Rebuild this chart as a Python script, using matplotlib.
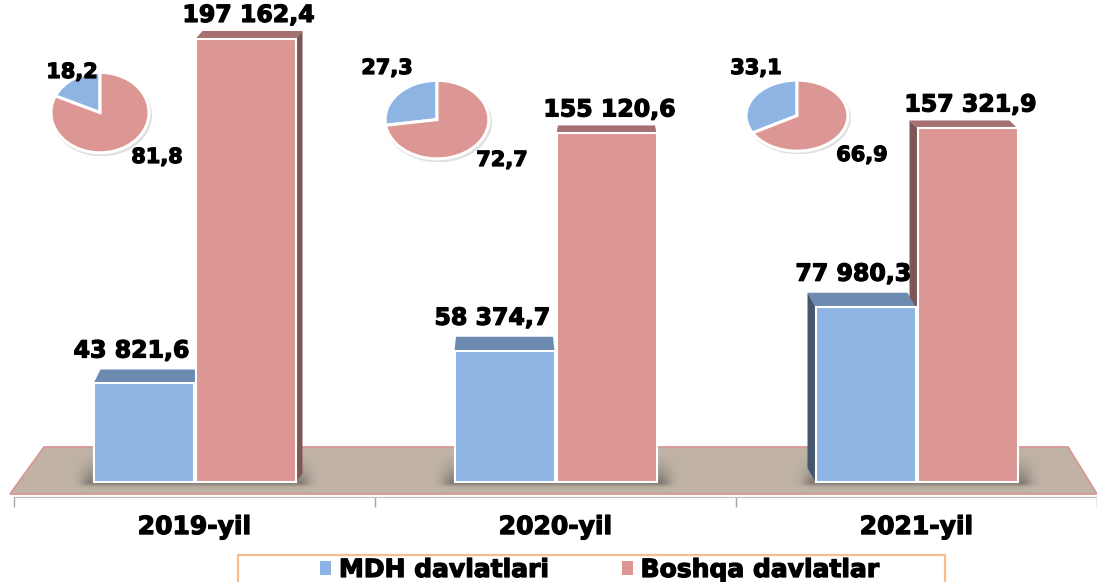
import numpy as np
import matplotlib
matplotlib.use("Agg")
import matplotlib.pyplot as plt
from matplotlib.patches import Polygon, Rectangle, Patch, Ellipse
import matplotlib.patheffects as pe

# ---------------- data ----------------
years = ["2019-yil", "2020-yil", "2021-yil"]
mdh = [43821.6, 58374.7, 77980.3]
boshqa = [197162.4, 155120.6, 157321.9]
share_mdh = [18.2, 27.3, 33.1]
share_boshqa = [81.8, 72.7, 66.9]
series_names = ["MDH davlatlari", "Boshqa davlatlar"]


def fmt(v):
    return f"{v:,.1f}".replace(",", " ").replace(".", ",")


def fmt_pct(v):
    return f"{v:.1f}".replace(".", ",")


# ---------------- style ----------------
W, H, DPI = 1097, 582, 100
BLUE, PINK = "#8EB4E3", "#DC9795"
BLUE_TOP, PINK_TOP = "#6D8AB0", "#A57170"
BLUE_SIDE, PINK_SIDE = "#45576F", "#7E5656"
FLOOR, FLOOR_EDGE = "#C0B3A6", "#D89896"

plt.rcParams["font.family"] = ["DejaVu Sans"]
plt.rcParams["font.weight"] = "bold"

fig = plt.figure(figsize=(W / DPI, H / DPI), dpi=DPI)
fig.patch.set_facecolor("white")

AX_L, AX_R, AX_B = 14, 1097, 497
ax = fig.add_axes([AX_L / W, (H - AX_B) / H, (AX_R - AX_L) / W, AX_B / H])
YMIN, YMAX = -6700, 214500
ax.set_xlim(-0.5, 2.5)
ax.set_ylim(YMIN, YMAX)
ax.patch.set_alpha(0)

kx = 3 / (AX_R - AX_L)        # data units per pixel (x)
ky = (YMAX - YMIN) / AX_B     # data units per pixel (y)


def p2d(px, py):
    return (-0.5 + (px - AX_L) * kx, YMIN + (AX_B - py) * ky)


# ---------------- floor ----------------
floor_pts = [p2d(44, 447), p2d(1068, 447), p2d(1097, 494), p2d(10, 494)]
floor = Polygon(floor_pts, closed=True, fc=FLOOR, ec=FLOOR_EDGE, lw=1.3,
                zorder=1, clip_on=False)
ax.add_patch(floor)

# soft shadow around the bar groups on the floor
x = np.arange(len(years))
bw = 100 * kx
off = 51 * kx
gx_px = np.arange(AX_L, AX_R + 1, 1.0)
gy_px = np.arange(440, 497, 1.0)
GX, GY = np.meshgrid(gx_px, gy_px)
alpha = np.zeros_like(GX)
base_py = AX_B + YMIN / ky   # pixel row of value 0
for i in x:
    cpx = AX_L + (i + 0.5) * (AX_R - AX_L) / 3
    xl, xr = cpx - 103, cpx + 104
    d = np.maximum(np.maximum(xl - GX, GX - xr), 0)
    hx = np.exp(-(d / 11.0) ** 2)
    above = np.clip((GY - (base_py - 32)) / 32, 0, 1) ** 1.6
    below = np.exp(-((GY - base_py) / 3.5) ** 2)
    vy = np.where(GY <= base_py, above, below)
    alpha = np.maximum(alpha, 0.48 * hx * vy)
img = np.zeros(GX.shape + (4,))
img[..., 0:3] = 0.25
img[..., 3] = alpha
x0d, y0d = p2d(AX_L, 497)
x1d, y1d = p2d(AX_R + 1, 440)
sh = ax.imshow(img, extent=(x0d, x1d, y0d, y1d), origin="upper",
               aspect="auto", zorder=1.5, interpolation="bilinear")
sh.set_clip_path(floor)
ax.set_xlim(-0.5, 2.5)
ax.set_ylim(YMIN, YMAX)

# ---------------- 3D-ish faces ----------------
shift_px = [7, 0, -8]
shrink_px = [0, 1.5, 0]


def faces(xc, v, depth_px, sx_px, shr_px, top_c, side_c, z):
    xl, xr = xc - bw / 2, xc + bw / 2
    dx, dy, s = sx_px * kx, depth_px * ky, shr_px * kx
    ax.add_patch(Polygon([(xl, v), (xr, v), (xr + dx - s, v + dy), (xl + dx + s, v + dy)],
                         closed=True, fc=top_c, ec="none", zorder=z))
    if sx_px > 0:
        ax.add_patch(Polygon([(xr, 0), (xr, v), (xr + dx, v + dy), (xr + dx, dy)],
                             closed=True, fc=side_c, ec="none", zorder=z))
    elif sx_px < 0:
        ax.add_patch(Polygon([(xl, 0), (xl, v), (xl + dx, v + dy), (xl + dx, dy)],
                             closed=True, fc=side_c, ec="none", zorder=z))


for i in x:
    faces(x[i] + off, boshqa[i], 8, shift_px[i], shrink_px[i], PINK_TOP, PINK_SIDE, 2.0)
for i in x:
    faces(x[i] - off, mdh[i], 14, shift_px[i], shrink_px[i], BLUE_TOP, BLUE_SIDE, 2.1)

ax.bar(x - off, mdh, bw, color=BLUE, edgecolor="white", linewidth=1.5, zorder=3,
       label=series_names[0])
ax.bar(x + off, boshqa, bw, color=PINK, edgecolor="white", linewidth=1.5, zorder=3,
       label=series_names[1])

heavy = [pe.withStroke(linewidth=0.9, foreground="black")]
for i in x:
    ax.annotate(fmt(mdh[i]), (x[i] - off, mdh[i]), xytext=(-12, 33),
                textcoords="offset pixels", ha="center", va="center",
                fontsize=17, fontweight="bold", color="black", zorder=5,
                path_effects=heavy)
    ax.annotate(fmt(boshqa[i]), (x[i] + off, boshqa[i]), xytext=(3, 24),
                textcoords="offset pixels", ha="center", va="center",
                fontsize=17, fontweight="bold", color="black", zorder=5,
                path_effects=heavy)

# ---------------- axes styling ----------------
for s in ["left", "right", "top"]:
    ax.spines[s].set_visible(False)
ax.spines["bottom"].set_color("#BDBDBD")
ax.spines["bottom"].set_linewidth(0.8)
ax.set_yticks([])
ax.set_xticks([-0.5, 0.5, 1.5, 2.5])
ax.set_xticklabels([])
ax.tick_params(axis="x", which="major", length=7, width=1, color="#A6A6A6")
ax.set_xticks(x, minor=True)
ax.set_xticklabels(years, minor=True, fontsize=18, fontweight="bold")
ax.tick_params(axis="x", which="minor", length=0, pad=13)
for lab in ax.get_xticklabels(minor=True):
    lab.set_path_effects(heavy)

# ---------------- pies ----------------
pie_rects = [(48, 70, 104, 86), (382, 78, 110, 84), (743, 78, 108, 76)]
pie_lbl_mdh = [(72, 72), (387, 68), (756, 68)]
pie_lbl_other = [(157, 157), (502, 160), (862, 155)]
for i in x:
    l, t, w, h = pie_rects[i]
    pax = fig.add_axes([l / W, (H - t - h) / H, w / W, h / H])
    pax.add_patch(Ellipse((0.03, -0.06), 2.06, 2.06, fc="#9A9A9A", alpha=0.3,
                          ec="none", zorder=0))
    pax.pie([share_mdh[i], share_boshqa[i]], colors=[BLUE, PINK], startangle=90,
            counterclock=True,
            wedgeprops=dict(edgecolor="white", linewidth=2.2))
    pax.set_aspect("auto")
    pax.set_xlim(-1.06, 1.06)
    pax.set_ylim(-1.08, 1.06)
    pax.axis("off")
    fig.text(pie_lbl_mdh[i][0] / W, 1 - pie_lbl_mdh[i][1] / H, fmt_pct(share_mdh[i]),
             ha="center", va="center", fontsize=15, fontweight="bold",
             path_effects=heavy)
    fig.text(pie_lbl_other[i][0] / W, 1 - pie_lbl_other[i][1] / H,
             fmt_pct(share_boshqa[i]), ha="center", va="center", fontsize=15,
             fontweight="bold", path_effects=heavy)

# ---------------- legend ----------------
box = Rectangle((238 / W, (H - 605) / H), 707 / W, 50 / H, transform=fig.transFigure,
                fill=False, ec="#F7BD8E", lw=1.6, clip_on=False)
fig.patches.append(box)
handles = [Patch(fc=BLUE, ec="none"), Patch(fc=PINK, ec="none")]
leg = fig.legend(handles, series_names, loc="center",
                 bbox_to_anchor=(600 / W, (H - 570) / H),
                 ncol=2, frameon=False, prop=dict(size=18, weight="bold"),
                 handlelength=0.45, handleheight=0.45, handletextpad=0.3,
                 columnspacing=2.9, borderpad=0)
for t in leg.get_texts():
    t.set_path_effects(heavy)

fig.savefig("out.png", dpi=DPI)
